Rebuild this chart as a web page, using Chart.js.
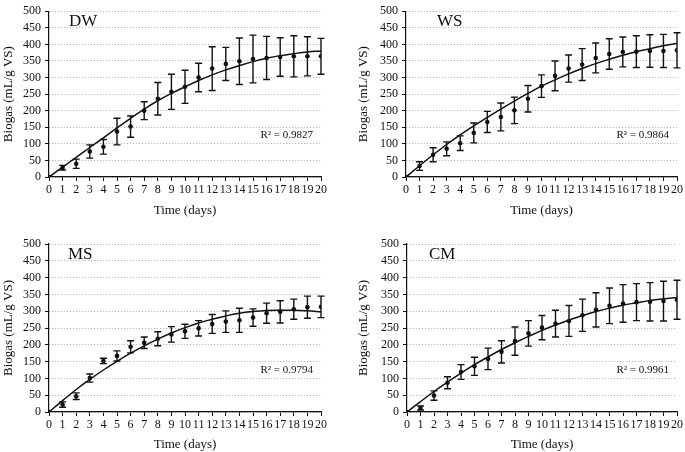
<!DOCTYPE html>
<html>
<head>
<meta charset="utf-8">
<script src="https://cdn.jsdelivr.net/npm/chart.js@4.4.1/dist/chart.umd.min.js"></script>
<style>
  body{margin:0;background:#fff;width:685px;height:452px;position:relative;overflow:hidden}
  .panel{position:absolute}
</style>
</head>
<body>
<div class="panel" style="left:0;top:0;width:342px;height:226px"><canvas id="dw"></canvas></div>
<div class="panel" style="left:342px;top:0;width:343px;height:226px"><canvas id="ws"></canvas></div>
<div class="panel" style="left:0;top:226px;width:342px;height:226px"><canvas id="ms"></canvas></div>
<div class="panel" style="left:342px;top:226px;width:343px;height:226px"><canvas id="cm"></canvas></div>
<script>
'use strict';

// days on the x axis
const days = [0,1,2,3,4,5,6,7,8,9,10,11,12,13,14,15,16,17,18,19,20];

// DW
const dwMean = [0,28,40,77,91,137,152,200,236,257,272,300,327,341,349,356,359,362,364,364,364];
const dwErr  = [0,7,14,20,22,40,32,27,49,53,50,43,66,50,70,72,65,58,62,59,54];
const dwFit  = [0,30,59,89,118,148,177,205,230,252,272,291,308,323,336,348,358,366,372,377,380];

// WS
const wsMean = [0,33,67,85,102,133,166,181,201,236,274,305,327,339,359,371,377,378,380,380,382];
const wsErr  = [0,13,21,21,22,30,32,42,40,40,34,45,41,48,45,46,45,48,49,50,53];
const wsFit  = [0,34,67,98,127,154,180,205,229,252,274,293,311,327,342,355,367,378,387,396,403];

// MS
const msMean = [0,22,47,101,152,167,194,206,218,231,240,249,262,269,273,281,294,298,306,312,313];
const msErr  = [0,8,10,12,8,15,18,17,21,23,21,23,28,32,36,26,30,33,30,33,32];
const msFit  = [0,34,67,97,125,151,175,197,217,235,251,265,276,286,294,299,302,303,303,301,298];

// CM
const cmMean = [0,12,49,87,119,136,158,179,211,234,251,263,271,288,304,316,323,327,328,330,334];
const cmErr  = [0,6,14,18,22,27,32,33,42,38,36,40,46,48,51,53,56,55,57,59,58];
const cmFit  = [0,31,61,89,116,141,164,186,206,225,243,259,274,287,299,309,318,325,332,337,341];

const yTicks = [0,50,100,150,200,250,300,350,400,450,500];

const SERIF = '"Liberation Serif", "Times New Roman", serif';

const panelDeco = {
  id: 'panelDeco',
  afterDatasetsDraw(chart, args, opts){
    const {ctx, chartArea, scales} = chart;
    const xs = scales.x, ys = scales.y;
    ctx.save();
    // error bars
    ctx.strokeStyle = '#111';
    ctx.lineWidth = 1.4;
    opts.mean.forEach((m, i)=>{
      const e = opts.err[i];
      if(!e) return;
      const px = xs.getPixelForValue(days[i]);
      const top = ys.getPixelForValue(m + e);
      const bot = ys.getPixelForValue(m - e);
      ctx.beginPath();
      ctx.moveTo(px, top); ctx.lineTo(px, bot);
      ctx.moveTo(px - 3.5, top); ctx.lineTo(px + 3.5, top);
      ctx.moveTo(px - 3.5, bot); ctx.lineTo(px + 3.5, bot);
      ctx.stroke();
    });
    // panel label
    ctx.fillStyle = '#111';
    ctx.font = '17px ' + SERIF;
    ctx.textAlign = 'left';
    ctx.textBaseline = 'alphabetic';
    ctx.fillText(opts.label, chartArea.left + opts.labelDx, chartArea.top + 15);
    // R squared
    ctx.font = '11px ' + SERIF;
    ctx.textAlign = 'right';
    ctx.textBaseline = 'middle';
    ctx.fillText('R² = ' + opts.r2, chartArea.right - 8, ys.getPixelForValue(125));
    ctx.restore();
  }
};

function makeChart(id, mean, err, fit, label, r2, lay){
  const pts = days.map((d,i)=>({x:d, y:mean[i]}));
  const curve = days.map((d,i)=>({x:d, y:fit[i]}));
  return new Chart(document.getElementById(id), {
    type: 'scatter',
    data: {
      datasets: [
        {
          type: 'line',
          data: curve,
          borderColor: '#111',
          borderWidth: 1.5,
          pointRadius: 0,
          tension: 0.4,
          fill: false
        },
        {
          data: pts,
          backgroundColor: '#111',
          borderColor: '#111',
          pointStyle: 'circle',
          pointRadius: 2.3,
          borderWidth: 0
        }
      ]
    },
    options: {
      responsive: true,
      maintainAspectRatio: false,
      animation: false,
      devicePixelRatio: 1,
      layout: { padding: { top: lay.top, right: lay.right, left: 0, bottom: 0 } },
      plugins: {
        legend: { display: false },
        tooltip: { enabled: false },
        panelDeco: { mean, err, label, r2, labelDx: lay.labelDx }
      },
      scales: {
        x: {
          type: 'linear',
          min: 0, max: 20,
          afterFit: s => { s.height = lay.xh; },
          afterBuildTicks: s => { s.ticks = days.map(v=>({value:v})); },
          ticks: {
            autoSkip: false, maxRotation: 0, minRotation: 0,
            color: '#111', padding: 2,
            font: { family: SERIF, size: 12 }
          },
          grid: { display: true, drawOnChartArea: false, drawTicks: true, tickLength: 4, color: '#111' },
          border: { display: true, color: '#111', width: 1.2 },
          title: {
            display: true, text: 'Time (days)', color: '#111',
            font: { family: SERIF, size: 13 },
            padding: { top: 0, bottom: lay.xtPad }
          }
        },
        y: {
          min: 0, max: 500,
          afterFit: s => { s.width = lay.yw; },
          afterBuildTicks: s => { s.ticks = yTicks.map(v=>({value:v})); },
          ticks: {
            autoSkip: false,
            color: '#111', padding: 4,
            font: { family: SERIF, size: 12 }
          },
          grid: {
            color: '#a8a8a8', lineWidth: 1,
            drawTicks: true, tickLength: 4,
            tickColor: '#111', tickBorderDash: [], tickWidth: 1
          },
          border: { display: true, color: '#111', width: 1.2, dash: [1,2] },
          title: {
            display: true, text: 'Biogas (mL/g VS)', color: '#111',
            font: { family: SERIF, size: 13 },
            padding: { top: lay.ytPad, bottom: 0 }
          }
        }
      }
    },
    plugins: [panelDeco]
  });
}

makeChart('dw', dwMean, dwErr, dwFit, 'DW', '0.9827', {top:7,  right:21, yw:49, xh:49, labelDx:20, xtPad:8, ytPad:1});
makeChart('ws', wsMean, wsErr, wsFit, 'WS', '0.9864', {top:10, right:8,  yw:64, xh:49, labelDx:31, xtPad:8, ytPad:14});
makeChart('ms', msMean, msErr, msFit, 'MS', '0.9794', {top:18, right:21, yw:49, xh:40, labelDx:19, xtPad:0, ytPad:1});
makeChart('cm', cmMean, cmErr, cmFit, 'CM', '0.9961', {top:18, right:7,  yw:65, xh:40, labelDx:22, xtPad:0, ytPad:14});
</script>
</body>
</html>
